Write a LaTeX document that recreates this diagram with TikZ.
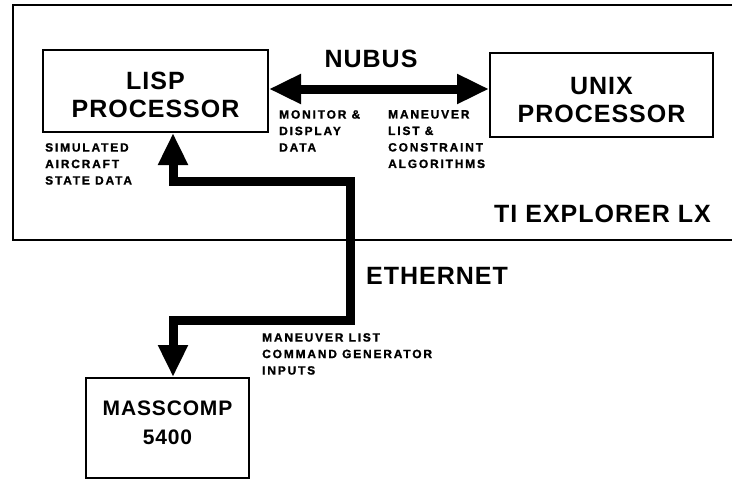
\documentclass[tikz,border=0pt]{standalone}
\usepackage{fontspec}
\setmainfont{Liberation Sans}
\newfontfamily\bigf{Liberation Sans}[LetterSpace=4]
\newfontfamily\smallf{Liberation Sans}[LetterSpace=15,BoldFeatures={FakeBold=1.2}]
\usetikzlibrary{arrows.meta}
\tikzset{
  box/.style={draw, line width=2pt, inner sep=0pt},
  bus/.style={line width=9pt, line join=miter,
    arrows={Triangle[length=32pt,width=28pt]-Triangle[length=32pt,width=28pt]}},
  bigt/.style={inner sep=0pt, align=center, font=\bigf\bfseries\fontsize{25}{28}\selectfont},
  smallt/.style={inner sep=0pt, align=left, anchor=north west,
    font=\smallf\bfseries\fontsize{12}{16.5}\selectfont},
}
\begin{document}
\begin{tikzpicture}[x=1pt,y=-1pt]
\path[use as bounding box] (0,0) rectangle (732,479);
\clip (0,0) rectangle (732,479);
\fill[white] (0,0) rectangle (732,479);
% outer frame
\draw[line width=2pt] (760,5) -- (13,5) -- (13,240) -- (760,240);
% processors
\node[box, minimum width=225pt, minimum height=82pt] (lisp) at (155.5,91) {};
\node[box, minimum width=223pt, minimum height=84pt] (unix) at (601.5,95) {};
\node[box, minimum width=163pt, minimum height=100pt] (mass) at (167.5,428) {};
\node[bigt] (lispt) at ([yshift=-3.5pt]lisp.center) {LISP\\PROCESSOR};
\node[bigt] (unixt) at ([yshift=-5pt]unix.center) {UNIX\\PROCESSOR};
\node[bigt, font=\bigf\bfseries\fontsize{21}{29}\selectfont] (masst) at ([yshift=5.5pt]mass.center) {MASSCOMP\\5400};
% bus
\coordinate (busy) at (0,89);
\draw[bus] (lisp.east |- busy) -- (unix.west |- busy);
% ethernet
\coordinate (e1) at (173,181);
\coordinate (e2) at (350,181);
\coordinate (e3) at (350,320);
\coordinate (e4) at (173,320);
\draw[bus] (lisp.south -| e1) -- (e1) -- (e2) -- (e3) -- (e4) -- (mass.north -| e4);
% labels
\node[bigt] (nubus) at (371,59) {NUBUS};
\node[bigt, anchor=west] (eth) at (366,276) {ETHERNET};
\node[bigt, anchor=west] (ti) at (494,214) {TI EXPLORER LX};
\node[smallt] (mon) at (279,110) {MONITOR \&\\DISPLAY\\DATA};
\node[smallt] (man) at (388,110) {MANEUVER\\LIST \&\\CONSTRAINT\\ALGORITHMS};
\node[smallt] (sim) at (45,143) {SIMULATED\\AIRCRAFT\\STATE DATA};
\node[smallt] (cmd) at (262,333) {MANEUVER LIST\\COMMAND GENERATOR\\INPUTS};
\end{tikzpicture}
\end{document}
